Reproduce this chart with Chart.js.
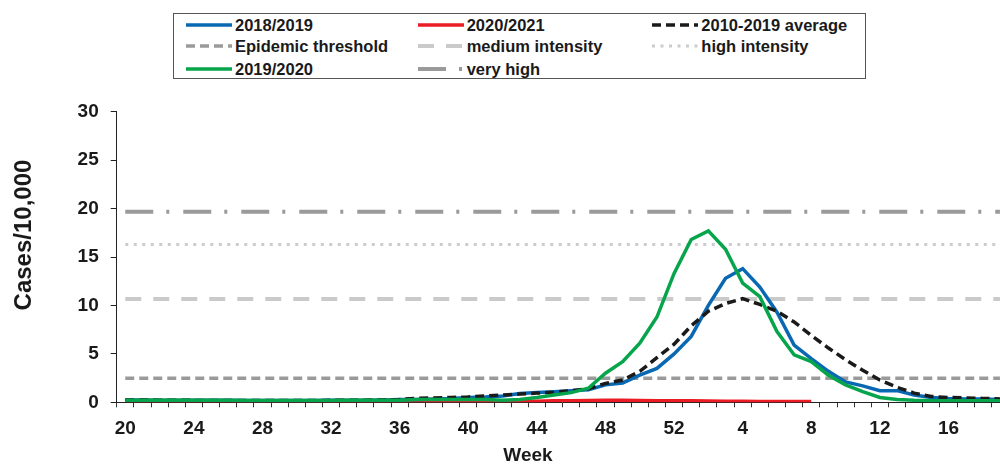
<!DOCTYPE html>
<html>
<head>
<meta charset="utf-8">
<script src="https://cdn.jsdelivr.net/npm/chart.js@4"></script>
<style>
  html, body { margin: 0; padding: 0; background: #fff; }
  body { width: 1000px; height: 464px; overflow: hidden; position: relative;
         font-family: "Liberation Sans", Arial, sans-serif; color: #1a1a1a; }
  #wrap { position: absolute; left: 0; top: 0; width: 1012px; height: 464px; }
  #legend { position: absolute; left: 173px; top: 13px; width: 693px; height: 66px;
            box-sizing: border-box; border: 1px solid #555; background: #fff; }
  .item { position: absolute; height: 20px; white-space: nowrap; }
  .item canvas { position: absolute; left: 0; top: 6px; }
  .item span { position: absolute; left: 49px; top: 0; line-height: 20px;
               font-size: 16.5px; font-weight: bold; }
  .axis-title { position: absolute; font-weight: bold; white-space: nowrap; text-align: center; }
  #ytitle { left: 23px; top: 235px; width: 220px; font-size: 24px; line-height: 24px;
            transform: translate(-50%, -50%) rotate(-90deg); }
  #xtitle { left: 528px; top: 445px; width: 120px; font-size: 19px; line-height: 19px;
            transform: translateX(-50%); }
</style>
</head>
<body>
<div id="wrap"><canvas id="fluChart"></canvas></div>
<div id="legend"></div>
<div class="axis-title" id="ytitle">Cases/10,000</div>
<div class="axis-title" id="xtitle">Week</div>
<script>
// weeks of the season, 20 .. 52 then 1 .. 19
const weeks = [20, 21, 22, 23, 24, 25, 26, 27, 28, 29, 30, 31, 32, 33, 34, 35, 36,
               37, 38, 39, 40, 41, 42, 43, 44, 45, 46, 47, 48, 49, 50, 51, 52,
               1, 2, 3, 4, 5, 6, 7, 8, 9, 10, 11, 12, 13, 14, 15, 16, 17, 18, 19];
const tickWeeks = [20, 24, 28, 32, 36, 40, 44, 48, 52, 4, 8, 12, 16];

const season1819 = [0.25, 0.25, 0.22, 0.2, 0.2, 0.2, 0.2, 0.18, 0.18, 0.18, 0.18, 0.18, 0.2, 0.2, 0.22, 0.25,
                    0.3, 0.3, 0.35, 0.4, 0.5, 0.55, 0.65, 0.9, 1.0, 1.1, 1.2, 1.3, 1.8, 2.0, 2.8, 3.5, 5.0,
                    6.8, 10.0, 12.8, 13.8, 11.9, 9.3, 5.9, 4.5, 3.2, 2.1, 1.7, 1.2, 1.2, 0.75, 0.5, 0.4, 0.35, 0.35, 0.3];
const season2021 = [0.15, 0.12, 0.1, 0.1, 0.1, 0.1, 0.1, 0.1, 0.1, 0.1, 0.1, 0.1, 0.1, 0.1, 0.1, 0.1,
                    0.1, 0.1, 0.1, 0.1, 0.1, 0.1, 0.1, 0.1, 0.12, 0.15, 0.15, 0.18, 0.2, 0.2, 0.18, 0.17, 0.15,
                    0.15, 0.13, 0.12, 0.1, 0.08, 0.07, 0.07, 0.08,
                    null, null, null, null, null, null, null, null, null, null, null];
const average1019 = [0.25, 0.25, 0.22, 0.2, 0.2, 0.18, 0.18, 0.18, 0.18, 0.18, 0.18, 0.18, 0.2, 0.2, 0.22, 0.25,
                     0.3, 0.4, 0.45, 0.5, 0.55, 0.65, 0.75, 0.85, 0.95, 1.05, 1.2, 1.4, 1.95, 2.3, 3.2, 4.6, 6.0,
                     7.9, 9.4, 10.2, 10.7, 10.1, 9.4, 8.3, 6.9, 5.6, 4.4, 3.3, 2.3, 1.55, 0.95, 0.6, 0.5, 0.45, 0.4, 0.35];
const season1920 = [0.22, 0.22, 0.2, 0.2, 0.2, 0.2, 0.2, 0.18, 0.18, 0.18, 0.18, 0.18, 0.18, 0.2, 0.2, 0.2,
                    0.22, 0.3, 0.3, 0.3, 0.3, 0.3, 0.2, 0.3, 0.5, 0.75, 1.0, 1.45, 3.0, 4.2, 6.1, 8.8, 13.3,
                    16.8, 17.7, 15.8, 12.3, 10.9, 7.3, 4.9, 4.2, 2.8, 1.8, 1.1, 0.5, 0.3, 0.2, 0.15, 0.15, 0.15, 0.15, 0.15];

// intensity thresholds (cases/10,000)
const epidemicThreshold = 2.48;
const mediumIntensity = 10.66;
const highIntensity = 16.3;
const veryHighIntensity = 19.67;

const FONT = '"Liberation Sans", Arial, sans-serif';

function flat(value) {
    return weeks.map(() => value);
}

const datasets = [
    { label: '2018/2019', data: season1819, borderColor: '#0868b2', borderWidth: 3.5, order: 3 },
    { label: '2020/2021', data: season2021, borderColor: '#ec1c24', borderWidth: 3.5, order: 4 },
    { label: '2010-2019 average', data: average1019, borderColor: '#1a1a1a', borderWidth: 3.5,
      borderDash: [9, 5], order: 2 },
    { label: 'Epidemic threshold', data: flat(epidemicThreshold), borderColor: '#9a9a9a', borderWidth: 3.5,
      borderDash: [9, 5], order: 5 },
    { label: 'medium intensity', data: flat(mediumIntensity), borderColor: '#cacaca', borderWidth: 4,
      borderDash: [16, 12], order: 6 },
    { label: 'high intensity', data: flat(highIntensity), borderColor: '#cccccc', borderWidth: 3,
      borderDash: [3, 5.5], order: 7 },
    { label: '2019/2020', data: season1920, borderColor: '#07a54b', borderWidth: 3.5, order: 1 },
    { label: 'very high', data: flat(veryHighIntensity), borderColor: '#9a9a9a', borderWidth: 4,
      borderDash: [28, 13, 3, 14], order: 8 }
];
datasets.forEach(d => {
    d.pointRadius = 0;
    d.fill = false;
    d.tension = 0;
    d.borderCapStyle = 'butt';
});

const ctx = document.getElementById('fluChart').getContext('2d');
const chart = new Chart(ctx, {
    type: 'line',
    data: { labels: weeks, datasets: datasets },
    options: {
        animation: false,
        responsive: true,
        maintainAspectRatio: false,
        layout: { padding: { top: 111.7, right: 3.5, bottom: 0, left: 0 } },
        plugins: { legend: { display: false }, tooltip: { enabled: false } },
        scales: {
            x: {
                type: 'category',
                offset: true,
                grid: { offset: true, drawOnChartArea: false, drawTicks: true, tickLength: 5, color: '#333' },
                border: { display: true, color: '#222', width: 1 },
                ticks: {
                    autoSkip: false, maxRotation: 0, minRotation: 0, padding: 10,
                    color: '#1a1a1a',
                    font: { family: FONT, size: 19, weight: 'bold' },
                    callback: (v, i) => tickWeeks.includes(weeks[i]) ? String(weeks[i]) : ''
                },
                afterFit: s => { s.height = 61.7; }
            },
            y: {
                min: 0, max: 30,
                grid: { drawOnChartArea: false, drawTicks: true, tickLength: 6, color: '#222' },
                border: { display: true, color: '#222', width: 1 },
                ticks: { stepSize: 5, padding: 12, color: '#1a1a1a',
                         font: { family: FONT, size: 19, weight: 'bold' } },
                afterFit: s => { s.width = 116.7; }
            }
        }
    }
});

// legend, three columns, filled row by row
const legendCols = [185, 416.7, 651.3];
const legendRows = [24, 45, 67.7];
const legendEl = document.getElementById('legend');
datasets.forEach((d, i) => {
    const item = document.createElement('div');
    item.className = 'item';
    item.style.left = (legendCols[i % 3] - 173) + 'px';
    item.style.top = (legendRows[Math.floor(i / 3)] - 13 - 10) + 'px';
    const c = document.createElement('canvas');
    c.width = 46; c.height = 8;
    const g = c.getContext('2d');
    g.strokeStyle = d.borderColor;
    g.lineWidth = Math.min(d.borderWidth, 4);
    g.setLineDash(d.borderDash || []);
    g.beginPath(); g.moveTo(0, 4); g.lineTo(46, 4); g.stroke();
    const t = document.createElement('span');
    t.textContent = d.label;
    item.appendChild(c);
    item.appendChild(t);
    legendEl.appendChild(item);
});
</script>
</body>
</html>
